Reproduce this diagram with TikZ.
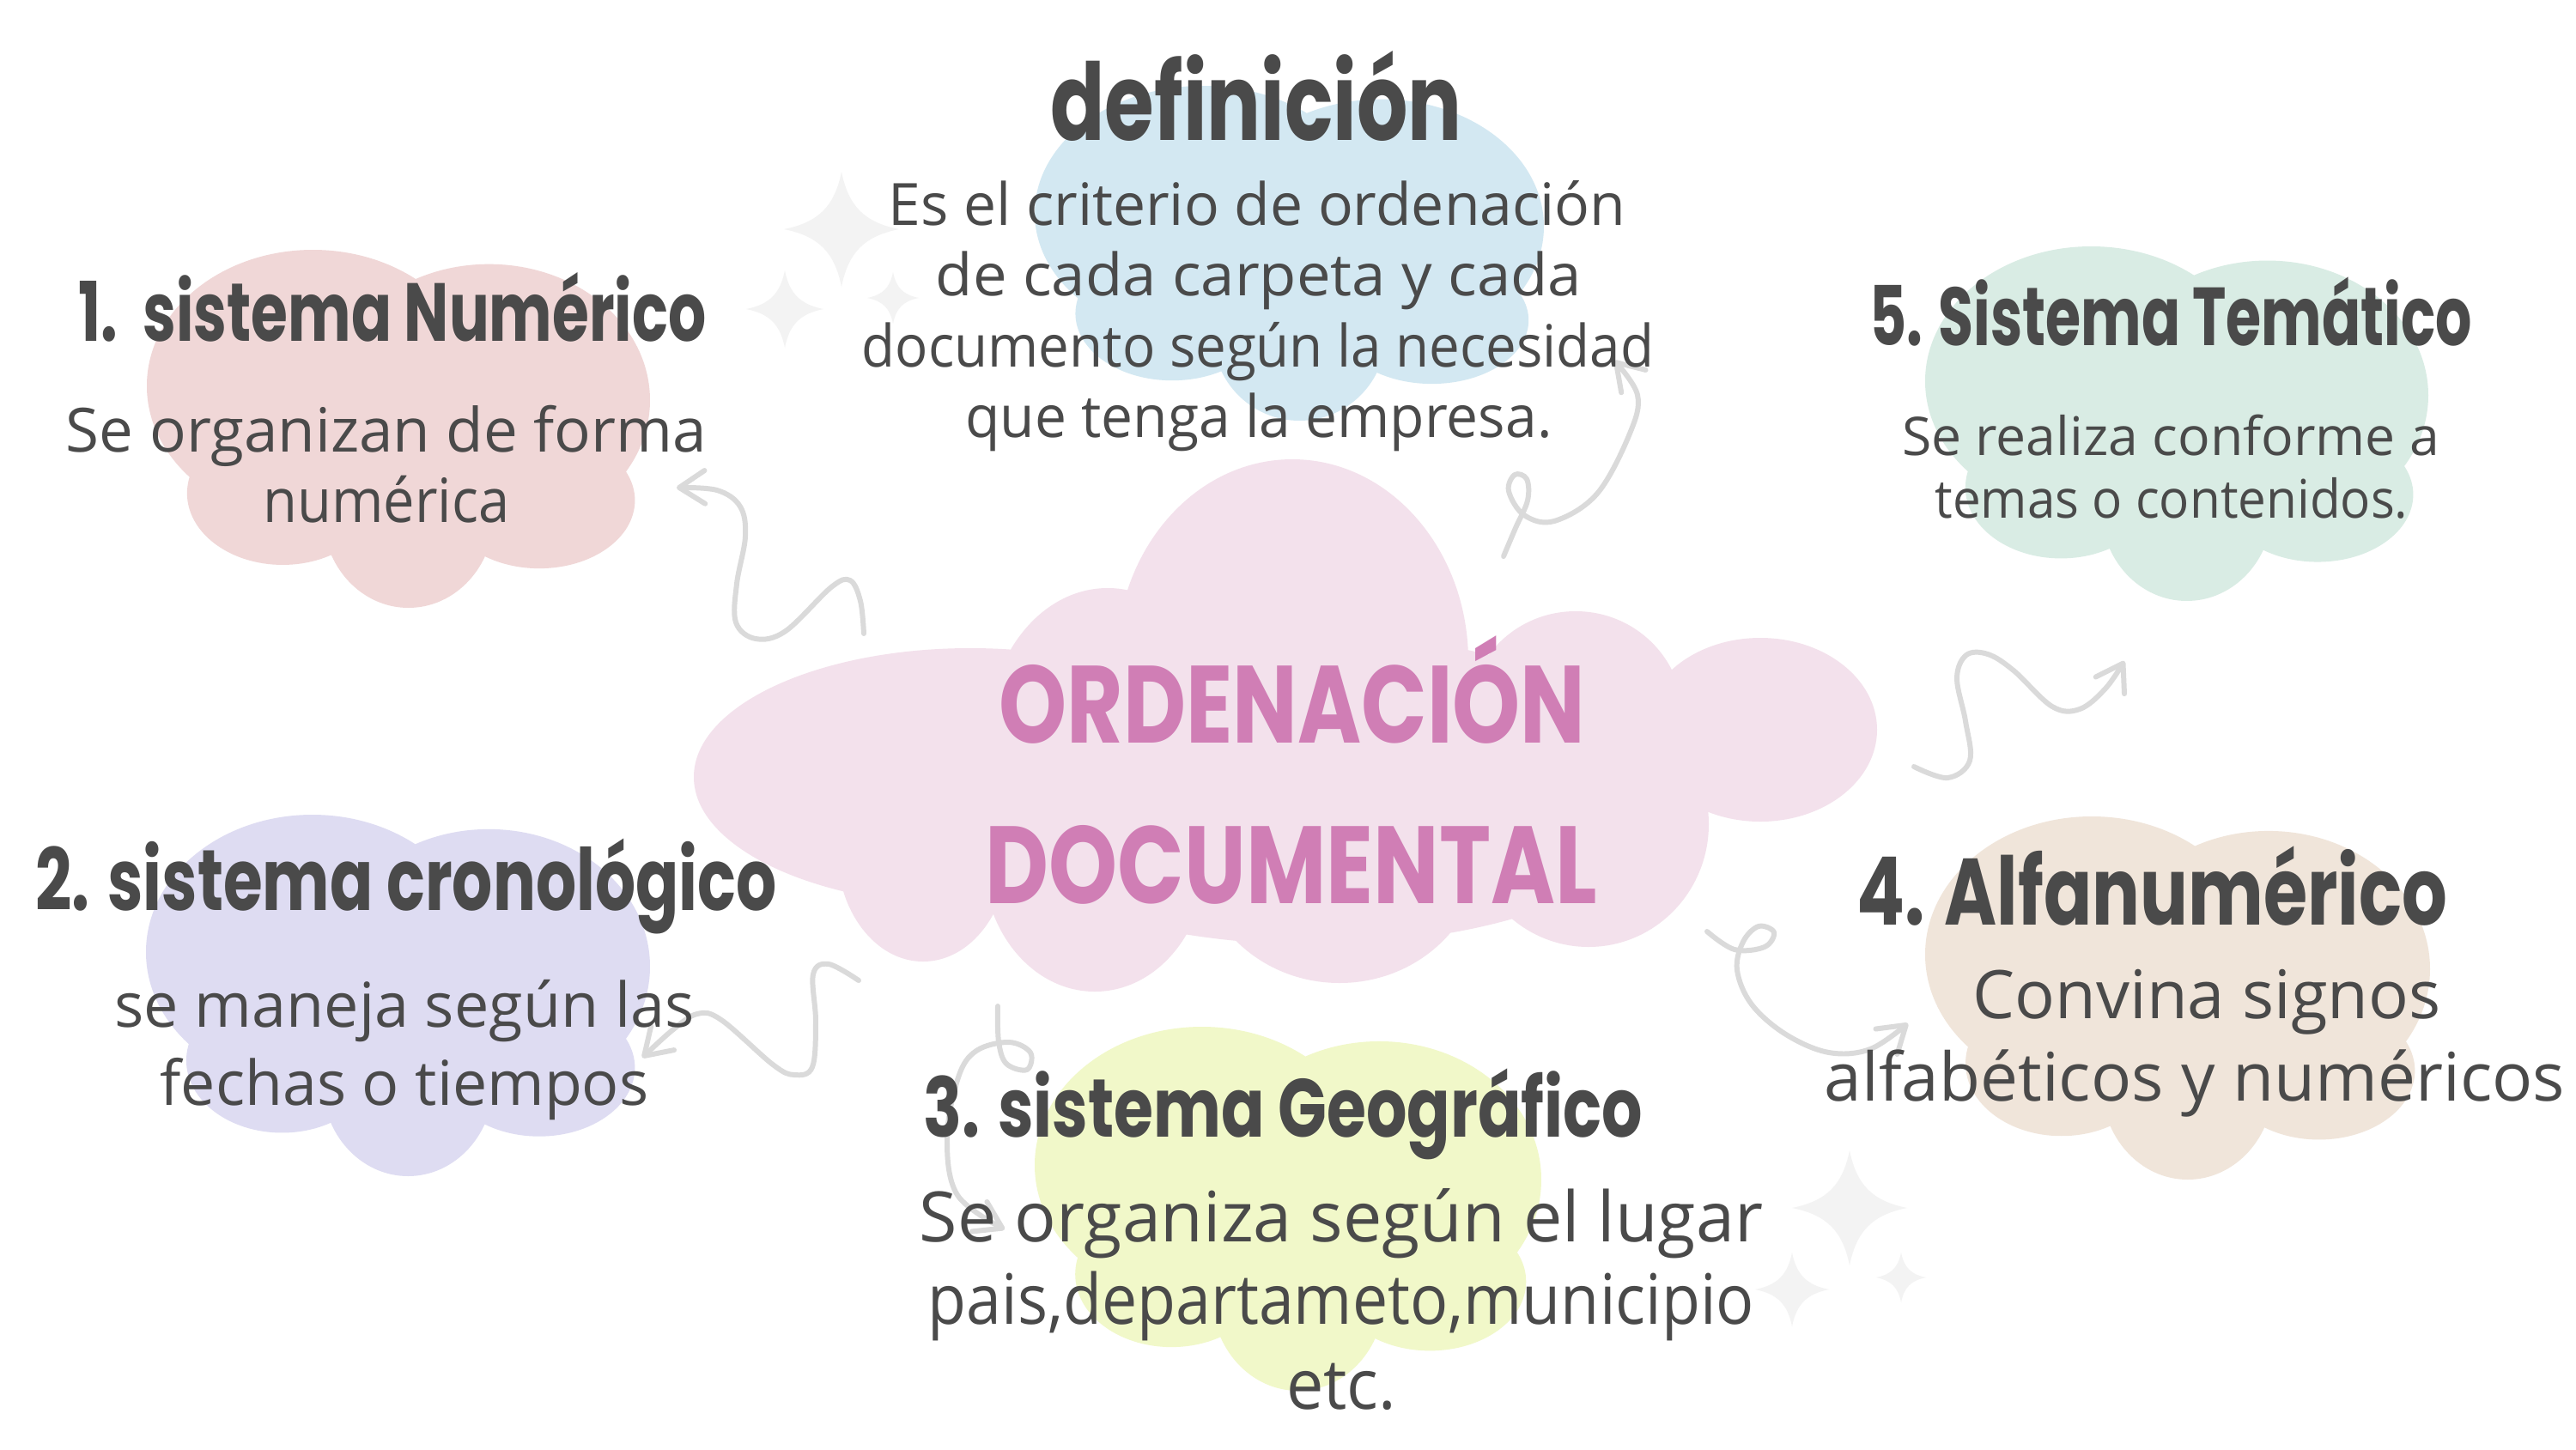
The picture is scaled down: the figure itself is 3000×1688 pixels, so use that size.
\documentclass[tikz,border=0pt]{standalone}
\usepackage{fontspec}
\usepackage{graphicx}
\usetikzlibrary{arrows.meta}
\newfontfamily\headfont{Poppins}
\newfontfamily\bodyfont{Open Sans}
\newlength\pxu \setlength\pxu{0.02cm}
\newcommand\fitw[2]{\resizebox{#1\pxu}{\height}{#2}}
\definecolor{ink}{HTML}{4A4A4A}
\definecolor{rosa}{HTML}{D07EB5}
\definecolor{cCentral}{HTML}{F3E1EC}
\definecolor{cBlue}{HTML}{D3E8F2}
\definecolor{cPink}{HTML}{F0D7D7}
\definecolor{cMint}{HTML}{D9ECE4}
\definecolor{cTan}{HTML}{F0E5DA}
\definecolor{cLav}{HTML}{DEDCF2}
\definecolor{cLime}{HTML}{F1F8C9}
\definecolor{arrgray}{HTML}{DADADA}
\definecolor{sparkgray}{HTML}{F3F3F3}
\newcommand\blob[5]{%
  \begin{scope}[shift={(#2,#3)},xscale=#4,yscale=#5]
    \fill[#1] (0.33,0.38) ellipse [x radius=0.33,y radius=0.38]
      (0.68,0.42) ellipse [x radius=0.32,y radius=0.38]
      (0.78,0.70) ellipse [x radius=0.19,y radius=0.19]
      (0.52,0.74) ellipse [x radius=0.17,y radius=0.26]
      (0.27,0.68) ellipse [x radius=0.19,y radius=0.20]
      (0.50,0.55) ellipse [x radius=0.35,y radius=0.30];
  \end{scope}}
\newcommand\sparkle[3]{%
  \begin{scope}[shift={(#1,#2)},scale=#3]
    \fill[sparkgray] (0,1) .. controls (0.12,0.4) and (0.4,0.12) .. (1,0)
      .. controls (0.4,-0.12) and (0.12,-0.4) .. (0,-1)
      .. controls (-0.12,-0.4) and (-0.4,-0.12) .. (-1,0)
      .. controls (-0.4,0.12) and (-0.12,0.4) .. (0,1) -- cycle;
  \end{scope}}
\tikzset{
  hd/.style={anchor=base, text=ink, inner sep=0pt, font=\headfont\bfseries\fontsize{#1}{#1}\selectfont},
  cen/.style={anchor=base, text=rosa, inner sep=0pt, font=\headfont\bfseries\fontsize{#1}{#1}\selectfont},
  bd/.style={anchor=base, text=ink, inner sep=0pt, font=\bodyfont\fontsize{#1}{#1}\selectfont},
  arr/.style={draw=arrgray, line width=3.4pt, line cap=round, line join=round,
    -{Straight Barb[round, length=17pt, width=22pt]}}
}
\begin{document}
\begin{tikzpicture}[x=0.02cm, y=-0.02cm]
\useasboundingbox (0,0) rectangle (3000,1688);
\fill[white] (0,0) rectangle (3000,1688);

% satellite clouds
\blob{cBlue}{1205}{100}{593}{390}
\blob{cPink}{171}{291}{586}{417}
\blob{cMint}{2242}{287}{586}{413}
\blob{cTan}{2242}{951}{588}{423}
\blob{cLav}{170}{949}{587}{421}
\blob{cLime}{1205}{1196}{590}{424}

% central cloud
\fill[cCentral]
  (1505,770) ellipse [x radius=205, y radius=235]
  (1290,860) ellipse [x radius=140, y radius=175]
  (1130,905) ellipse [x radius=322, y radius=150]
  (1075,990) ellipse [x radius=100, y radius=130]
  (1275,1000) ellipse [x radius=130, y radius=155]
  (1560,990) ellipse [x radius=165, y radius=155]
  (1850,960) ellipse [x radius=140, y radius=143]
  (1835,835) ellipse [x radius=125, y radius=123]
  (2050,850) ellipse [x radius=136, y radius=107]
  (1530,920) ellipse [x radius=420, y radius=180];

% sparkles
\sparkle{980}{267}{67}
\sparkle{914}{360}{45}
\sparkle{1040}{347}{30}
\sparkle{2154}{1407}{67}
\sparkle{2087}{1502}{43}
\sparkle{2214}{1488}{29}

% connectors
\coordinate (aS) at (1006,738);  \coordinate (aT) at (788,568);
\coordinate (bS) at (1751,648);  \coordinate (bT) at (1880,420);
\coordinate (cS) at (2229,893);  \coordinate (cT) at (2474,770);
\coordinate (dS) at (1988,1085); \coordinate (dT) at (2222,1192);
\coordinate (eS) at (1000,1142); \coordinate (eT) at (748,1232);
\coordinate (fS) at (1162,1172); \coordinate (fT) at (1170,1432);

\draw[arr] plot[smooth, tension=0.6] coordinates {(aS) (1002,700) (990,676) (968,684) (915,735) (880,744) (857,725) (858,680) (868,625) (862,590) (835,571) (aT)};
\draw[arr] plot[smooth, tension=0.6] coordinates {(bS) (1765,615) (1779,583) (1778,558) (1764,553) (1757,572) (1775,600) (1810,607) (1860,575) (1898,505) (1907,460) (bT)};
\draw[arr] plot[smooth, tension=0.6] coordinates {(cS) (2268,906) (2294,886) (2289,840) (2279,790) (2290,763) (2315,762) (2345,781) (2390,823) (2422,826) (2452,802) (cT)};
\draw[arr] plot[smooth, tension=0.6] coordinates {(dS) (2020,1106) (2055,1103) (2066,1086) (2048,1079) (2030,1097) (2023,1130) (2040,1170) (2080,1205) (2130,1226) (2178,1222) (dT)};
\draw[arr] plot[smooth, tension=0.6] coordinates {(eS) (965,1123) (947,1135) (950,1190) (946,1243) (925,1252) (900,1240) (840,1188) (812,1181) (783,1200) (eT)};
\draw[arr] plot[smooth, tension=0.6] coordinates {(fS) (1163,1213) (1172,1239) (1196,1246) (1200,1226) (1175,1214) (1137,1224) (1116,1255) (1103,1325) (1115,1392) (fT)};

% central title
\node[cen=72.8pt] (c1) at (1505,865) {\fitw{683}{ORDENACIÓN}};
\node[cen=72.8pt] (c2) at (1504,1052) {\fitw{712}{DOCUMENTAL}};

% headings
\node[hd=71pt] (hdef) at (1463,163) {\fitw{479}{definición}};
\node[hd=54.6pt] (h1) at (457,397) {\fitw{731}{1.\ \ sistema Numérico}};
\node[hd=57pt] (h2) at (473,1060) {\fitw{863}{2. sistema cronológico}};
\node[hd=54.6pt] (h3) at (1494,1324) {\fitw{838}{3. sistema Geográfico}};
\node[hd=62.6pt] (h4) at (2506,1077) {\fitw{688}{4. Alfanumérico}};
\node[hd=54.6pt] (h5) at (2528,402) {\fitw{702}{5. Sistema Temático}};

% body texts
\node[bd=38.7pt] (d1) at (1464,262) {\fitw{859}{Es el criterio de ordenación}};
\node[bd=38.7pt] (d2) at (1466,344) {\fitw{752}{de cada carpeta y cada}};
\node[bd=38.7pt] (d3) at (1465,427) {\fitw{922}{documento según la necesidad}};
\node[bd=38.7pt] (d4) at (1466,509) {\fitw{683}{que tenga la empresa.}};

\node[bd=40.4pt] (n1) at (450,526) {\fitw{746}{Se organizan de forma}};
\node[bd=40.4pt] (n2) at (450,608) {\fitw{287}{numérica}};

\node[bd=35.3pt] (t1) at (2528,530) {\fitw{626}{Se realiza conforme a}};
\node[bd=35.3pt] (t2) at (2529,603) {\fitw{551}{temas o contenidos.}};

\node[bd=44.4pt] (a1) at (2570,1186) {\fitw{545}{Convina signos}};
\node[bd=44.4pt] (a2) at (2556,1282) {\fitw{862}{alfabéticos y numéricos}};

\node[bd=41pt] (r1) at (471,1196) {\fitw{675}{se maneja según las}};
\node[bd=41pt] (r2) at (471,1287) {\fitw{569}{fechas o tiempos}};

\node[bd=46.1pt] (g1) at (1562,1446) {\fitw{982}{Se organiza según el lugar}};
\node[bd=46.1pt] (g2) at (1562,1542) {\fitw{962}{pais,departameto,municipio}};
\node[bd=46.1pt] (g3) at (1562,1641) {\fitw{128}{etc.}};
\end{tikzpicture}
\end{document}
